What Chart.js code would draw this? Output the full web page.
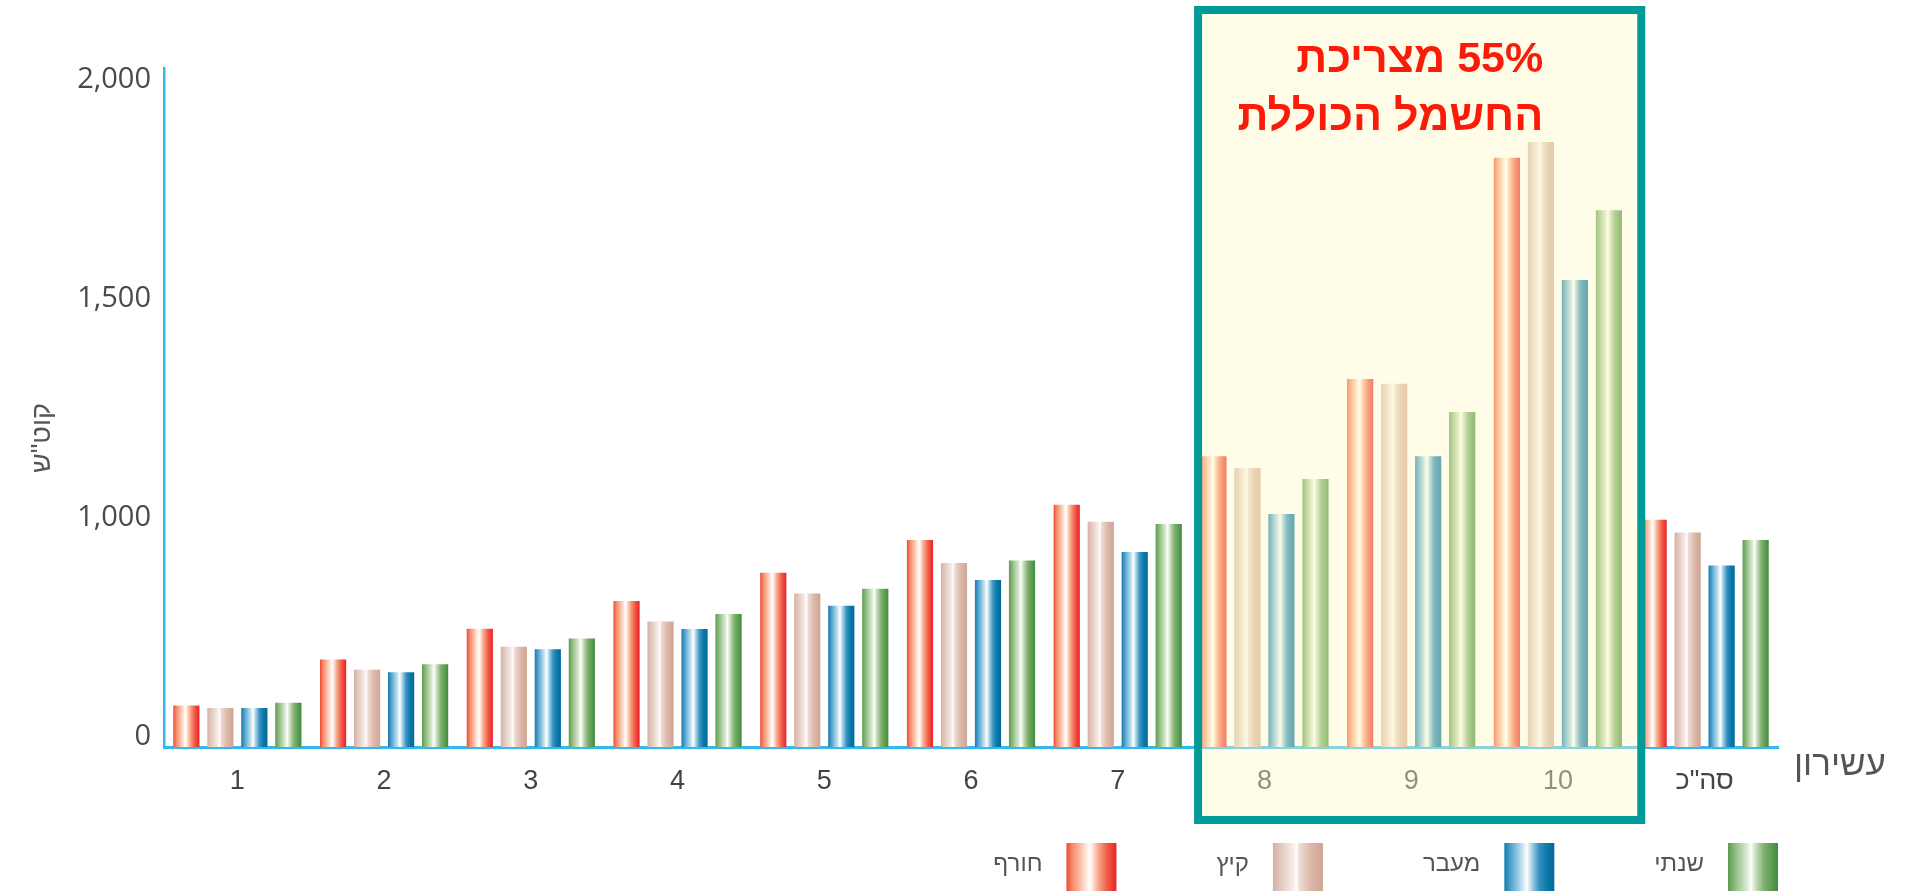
<!DOCTYPE html>
<html lang="he">
<head>
<meta charset="utf-8">
<title>צריכת חשמל לפי עשירון</title>
<script src="https://cdn.jsdelivr.net/npm/chart.js@4.4.1/dist/chart.umd.min.js"></script>
<style>
  html, body { margin: 0; padding: 0; background: #ffffff; }
  #wrap { width: 1907px; height: 894px; position: relative; }
  canvas { display: block; }
</style>
</head>
<body>
<div id="wrap"><canvas id="chart" width="1907" height="894"></canvas></div>
<script>
// ---- data -------------------------------------------------------------
const categories = ['1', '2', '3', '4', '5', '6', '7', '8', '9', '10', 'סה"כ'];
const seriesNames = ['חורף', 'קיץ', 'מעבר', 'שנתי'];
const winter     = [190, 400, 540, 667, 795, 945, 1053, 1164, 1340, 1845, 1019];
const summer     = [178, 353, 458, 573, 701, 840, 1014, 1137, 1329, 1881, 979];
const transition = [178, 341, 446, 539, 645, 763, 890, 1032, 1164, 1566, 829];
const annual     = [202, 378, 495, 607, 723, 851, 1009, 1112, 1265, 1725, 945];
const yTicks = [0, 1000, 1500, 2000];
const yTitle = 'קוט"ש';
const xTitle = 'עשירון';
const highlightLines = ['55% מצריכת', 'החשמל הכוללת'];
const highlightRange = ['8', '10'];

// ---- styles -----------------------------------------------------------
// Horizontal stripe gradients (left -> right) for each season.
const stripeStops = [
  [[0, '#ef4a36'], [0.12, '#f68a6a'], [0.3, '#fcc7b0'], [0.42, '#fff1ea'], [0.47, '#ffffff'],
   [0.53, '#fde2d4'], [0.65, '#f8a286'], [0.82, '#f05a45'], [1, '#e92129']],
  [[0, '#d6b1a4'], [0.2, '#e6cfc6'], [0.42, '#f8efeb'], [0.47, '#ffffff'],
   [0.53, '#efdcd5'], [0.75, '#dcb9ab'], [1, '#cfa493']],
  [[0, '#1679aa'], [0.15, '#5aaad2'], [0.35, '#bfe0ef'], [0.45, '#ffffff'],
   [0.55, '#a6d2e6'], [0.7, '#3591c0'], [0.85, '#0b78aa'], [1, '#006a99']],
  [[0, '#5d9b4f'], [0.18, '#9cc48d'], [0.38, '#dcebd5'], [0.46, '#ffffff'],
   [0.54, '#cfe3c6'], [0.72, '#7fb06e'], [1, '#3e8c3c']]
];
const solidColors = ['#ec3a2e', '#d9b5a8', '#0b78aa', '#4f9646'];
const axisBlue = '#35b8ea';
const hebFont = '"Liberation Sans", "DejaVu Sans", sans-serif';

// ---- value axis whose ticks are evenly spaced ---------------------------
// Each interval between consecutive ticks gets the same height on screen.
class TickSpacedScale extends Chart.LinearScale {
  static id = 'tickSpaced';
  static defaults = {};
  knots() { return this.options.knots || yTicks; }
  toUnits(v) {
    const k = this.knots(), n = k.length - 1;
    if (v <= k[1]) return (v - k[0]) / (k[1] - k[0]);
    for (let i = 1; i < n; i++) {
      if (v <= k[i + 1]) return i + (v - k[i]) / (k[i + 1] - k[i]);
    }
    return n + (v - k[n]) / (k[n] - k[n - 1]);
  }
  fromUnits(u) {
    const k = this.knots(), n = k.length - 1;
    if (u <= 1) return k[0] + u * (k[1] - k[0]);
    if (u >= n) return k[n] + (u - n) * (k[n] - k[n - 1]);
    const i = Math.floor(u);
    return k[i] + (u - i) * (k[i + 1] - k[i]);
  }
  getPixelForValue(value) {
    if (value === null || value === undefined || isNaN(value)) return NaN;
    const u0 = this.toUnits(this.min), u1 = this.toUnits(this.max);
    return this.getPixelForDecimal((this.toUnits(value) - u0) / (u1 - u0));
  }
  getValueForPixel(pixel) {
    const u0 = this.toUnits(this.min), u1 = this.toUnits(this.max);
    return this.fromUnits(u0 + this.getDecimalForPixel(pixel) * (u1 - u0));
  }
}
Chart.register(TickSpacedScale);

// ---- plugins ----------------------------------------------------------
// Fills every bar with its season's stripe gradient, positioned on the bar.
const stripedBars = {
  id: 'stripedBars',
  beforeDatasetsDraw(chart) {
    const ctx = chart.ctx;
    chart.data.datasets.forEach((ds, di) => {
      const meta = chart.getDatasetMeta(di);
      if (meta.hidden) return;
      meta.data.forEach(bar => {
        const { x, width } = bar.getProps(['x', 'width'], true);
        const g = ctx.createLinearGradient(x - width / 2, 0, x + width / 2, 0);
        stripeStops[di].forEach(([o, c]) => g.addColorStop(o, c));
        bar.options = Object.assign({}, bar.options, { backgroundColor: g });
      });
    });
  }
};

// Axis titles drawn beside the plot.
const axisTitles = {
  id: 'axisTitles',
  afterDraw(chart) {
    const { ctx, chartArea } = chart;
    ctx.save();
    ctx.fillStyle = '#555555';
    ctx.font = '35px ' + hebFont;
    ctx.textBaseline = 'middle';
    ctx.textAlign = 'left';
    ctx.fillText(xTitle, chartArea.right + 16, chartArea.bottom + 18);
    ctx.font = '27px ' + hebFont;
    ctx.translate(chartArea.left - 121, chartArea.top + 370);
    ctx.rotate(-Math.PI / 2);
    ctx.textAlign = 'center';
    ctx.fillText(yTitle, 0, 0);
    ctx.restore();
  }
};

// Framed, tinted panel over the top deciles with its caption.
const highlightPanel = {
  id: 'highlightPanel',
  afterDraw(chart) {
    const { ctx, chartArea, scales: { x } } = chart;
    const i0 = categories.indexOf(highlightRange[0]);
    const i1 = categories.indexOf(highlightRange[1]);
    const half = (x.getPixelForValue(1) - x.getPixelForValue(0)) / 2;
    const left = x.getPixelForValue(i0) - half + 7;
    const right = x.getPixelForValue(i1) + half + 10;
    const top = chartArea.top - 58;
    const bottom = chartArea.bottom + 73;
    ctx.save();
    ctx.fillStyle = 'rgba(255, 250, 198, 0.42)';
    ctx.fillRect(left, top, right - left, bottom - top);
    ctx.lineWidth = 8;
    ctx.strokeStyle = '#009b97';
    ctx.strokeRect(left, top, right - left, bottom - top);

    ctx.fillStyle = '#fb1b0b';
    ctx.font = 'bold 43px ' + hebFont;
    ctx.direction = 'rtl';
    ctx.textAlign = 'right';
    ctx.textBaseline = 'alphabetic';
    ctx.fillText(highlightLines[0], right - 98, top + 62);
    ctx.fillText(highlightLines[1], right - 98, top + 120);
    ctx.restore();
  }
};

// Legend row: swatch to the right of each name, first season on the left.
const legendRow = {
  id: 'legendRow',
  afterDraw(chart) {
    const { ctx, chartArea } = chart;
    const sw = 50, sh = 48, gapText = 24, gapItem = 100;
    const top = chartArea.bottom + 96;
    let edge = chartArea.right;
    ctx.save();
    ctx.font = '24px ' + hebFont;
    ctx.textAlign = 'right';
    ctx.textBaseline = 'middle';
    for (let i = chart.data.datasets.length - 1; i >= 0; i--) {
      const label = chart.data.datasets[i].label;
      const sx = edge - sw;
      const g = ctx.createLinearGradient(sx, 0, sx + sw, 0);
      stripeStops[i].forEach(([o, c]) => g.addColorStop(o, c));
      ctx.fillStyle = g;
      ctx.fillRect(sx, top, sw, sh);
      ctx.fillStyle = '#555555';
      const tx = sx - gapText;
      ctx.fillText(label, tx, top + 21);
      edge = tx - ctx.measureText(label).width - gapItem;
    }
    ctx.restore();
  }
};

// ---- chart ------------------------------------------------------------
const seriesValues = [winter, summer, transition, annual];

new Chart(document.getElementById('chart'), {
  type: 'bar',
  data: {
    labels: categories,
    datasets: seriesNames.map((name, i) => ({
      label: name,
      data: seriesValues[i],
      backgroundColor: solidColors[i],
      borderWidth: 0,
      barPercentage: 0.77,
      categoryPercentage: 0.927
    }))
  },
  options: {
    responsive: false,
    animation: false,
    devicePixelRatio: 1,
    events: [],
    layout: { padding: { left: 0, right: 129, top: 68, bottom: 0 } },
    plugins: {
      legend: { display: false },
      title: { display: false },
      tooltip: { enabled: false }
    },
    scales: {
      x: {
        type: 'category',
        grid: { display: false, drawTicks: false },
        border: { display: true, color: axisBlue, width: 3 },
        ticks: {
          color: '#444444',
          font: { family: hebFont, size: 27 },
          padding: 18,
          maxRotation: 0,
          autoSkip: false
        },
        afterFit(scale) { scale.height = 147; }
      },
      y: {
        type: 'tickSpaced',
        knots: yTicks,
        min: 0,
        max: 2050,
        bounds: 'data',
        grid: { display: false, drawTicks: false },
        border: { display: true, color: axisBlue, width: 2.5 },
        ticks: {
          color: '#4a4a4a',
          font: { family: '"Open Sans", sans-serif', size: 29 },
          padding: 13,
          labelOffset: -10,
          callback: v => Number(v).toLocaleString('en-US')
        },
        afterBuildTicks(scale) { scale.ticks = yTicks.map(v => ({ value: v })); },
        afterFit(scale) { scale.width = 164; }
      }
    }
  },
  plugins: [stripedBars, highlightPanel, legendRow, axisTitles]
});
</script>
</body>
</html>
